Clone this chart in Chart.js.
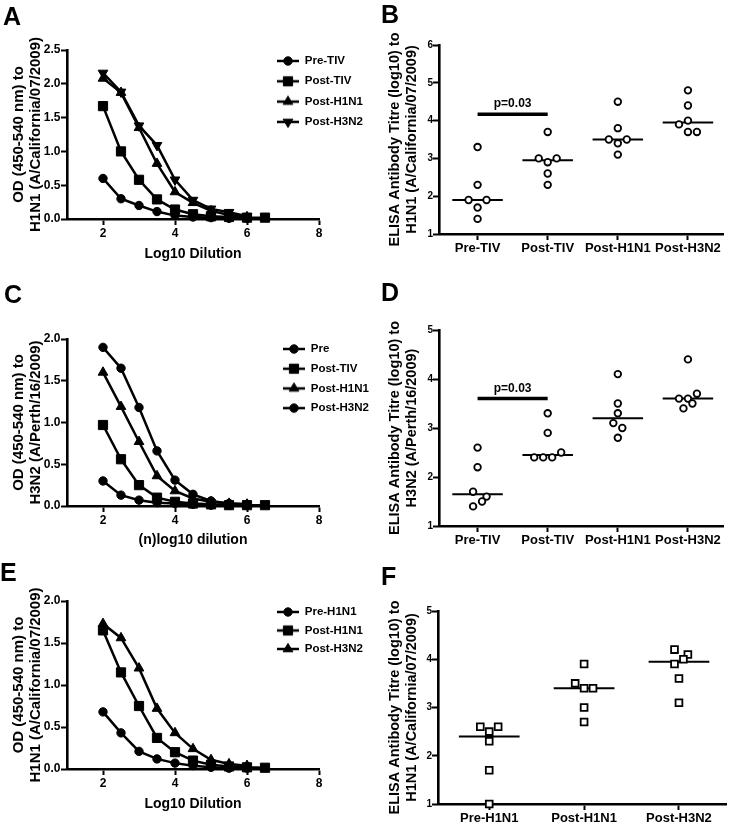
<!DOCTYPE html>
<html>
<head>
<meta charset="utf-8">
<script src="https://cdn.jsdelivr.net/npm/chart.js@4.4.1/dist/chart.umd.min.js"></script>
<style>
  html, body { margin: 0; padding: 0; background: #fff; }
  #fig { position: relative; width: 733px; height: 824px; overflow: hidden; background: #fff; }
  #fig canvas { position: absolute; }
  .lbl { position: absolute; font-family: "Liberation Sans", Arial, sans-serif; font-weight: bold; font-size: 25px; line-height: 1; color: #000; }
</style>
</head>
<body>
<div id="fig">
  <canvas id="cA" width="370" height="275" style="left:0px;top:0px"></canvas>
  <canvas id="cB" width="363" height="280" style="left:370px;top:0px"></canvas>
  <canvas id="cC" width="370" height="275" style="left:0px;top:280px"></canvas>
  <canvas id="cD" width="363" height="275" style="left:370px;top:280px"></canvas>
  <canvas id="cE" width="370" height="274" style="left:0px;top:550px"></canvas>
  <canvas id="cF" width="363" height="274" style="left:370px;top:550px"></canvas>
  <div class="lbl" style="left:3px;top:4px">A</div>
  <div class="lbl" style="left:381px;top:2px">B</div>
  <div class="lbl" style="left:4px;top:282px">C</div>
  <div class="lbl" style="left:381px;top:280px">D</div>
  <div class="lbl" style="left:0px;top:560px">E</div>
  <div class="lbl" style="left:381px;top:564px">F</div>
</div>
<script>
// ================= DATA =================
// Line panels (A, C, E): OD vs log10 dilution
const dilution = [2, 2.5, 3, 3.5, 4, 4.5, 5, 5.5, 6, 6.5];
const lineXTicks = [2, 4, 6, 8];

// Panel A
const aSeriesNames = ['Pre-TIV', 'Post-TIV', 'Post-H1N1', 'Post-H3N2'];
const aPreTIV   = [0.60, 0.30, 0.20, 0.11, 0.05, 0.03, 0.02, 0.01, 0.01];
const aPostTIV  = [1.67, 1.00, 0.58, 0.29, 0.14, 0.07, 0.04, 0.03, 0.02, 0.02];
const aPostH1N1 = [2.08, 1.87, 1.35, 0.82, 0.40, 0.24, 0.12, 0.06, 0.03];
const aPostH3N2 = [2.16, 1.88, 1.38, 1.09, 0.58, 0.28, 0.15, 0.10, 0.04];
const aYTicks = [0, 0.5, 1.0, 1.5, 2.0, 2.5];

// Panel C
const cSeriesNames = ['Pre', 'Post-TIV', 'Post-H1N1', 'Post-H3N2'];
const cPre      = [0.30, 0.13, 0.07, 0.04, 0.03, 0.02, 0.01, 0.01, 0.01];
const cPostTIV  = [0.97, 0.56, 0.25, 0.10, 0.05, 0.03, 0.02, 0.01, 0.01, 0.01];
const cPostH1N1 = [1.60, 1.19, 0.77, 0.36, 0.18, 0.09, 0.05, 0.03, 0.02];
const cPostH3N2 = [1.90, 1.65, 1.18, 0.66, 0.31, 0.14, 0.06, 0.03, 0.02];
const cYTicks = [0, 0.5, 1.0, 1.5, 2.0];

// Panel E
const eSeriesNames = ['Pre-H1N1', 'Post-H1N1', 'Post-H3N2'];
const ePreH1N1  = [0.68, 0.43, 0.21, 0.12, 0.07, 0.04, 0.02, 0.01, 0.01];
const ePostH1N1 = [1.65, 1.15, 0.75, 0.37, 0.20, 0.10, 0.05, 0.03, 0.02, 0.015];
const ePostH3N2 = [1.73, 1.56, 1.20, 0.72, 0.43, 0.24, 0.11, 0.06, 0.04];
const eYTicks = [0, 0.5, 1.0, 1.5, 2.0];

// Dot panels (B, D, F): ELISA titres per subject
const bGroups = ['Pre-TIV', 'Post-TIV', 'Post-H1N1', 'Post-H3N2'];
const bPreTIV   = [3.3, 2.3, 1.9, 1.9, 1.7, 1.4];
const bPostTIV  = [3.7, 3.0, 2.9, 3.0, 2.6, 2.3];
const bPostH1N1 = [4.5, 3.8, 3.5, 3.4, 3.5, 3.1];
const bPostH3N2 = [4.8, 4.4, 4.0, 3.9, 3.7, 3.7];
const bSpread = [[0, 0, -2, 2, 0, 0], [0, -2, 0, 2, 0, 0], [0, 0, -2, 0, 2, 0], [0, 0, 0, -2, 0, 2]];
const bYTicks = [1, 2, 3, 4, 5, 6];
const bSig = { from: 1, to: 2, y: 4.17, labelY: 4.46, label: 'p=0.03' };

const dGroups = ['Pre-TIV', 'Post-TIV', 'Post-H1N1', 'Post-H3N2'];
const dPreTIV   = [2.6, 2.2, 1.7, 1.6, 1.5, 1.4];
const dPostTIV  = [3.3, 2.9, 2.4, 2.4, 2.4, 2.5];
const dPostH1N1 = [4.1, 3.5, 3.3, 3.1, 3.0, 2.8];
const dPostH3N2 = [4.4, 3.6, 3.6, 3.7, 3.4, 3.5];
const dSpread = [[0, 0, -1, 2, 1, -1], [0, 0, -3, -1, 1, 3], [0, 0, 0, -1, 1, 0], [0, -2, 0, 2, -1, 1]];
const dYTicks = [1, 2, 3, 4, 5];
const dSig = { from: 1, to: 2, y: 3.6, labelY: 3.81, label: 'p=0.03' };

const fGroups = ['Pre-H1N1', 'Post-H1N1', 'Post-H3N2'];
const fPreH1N1  = [2.6, 2.5, 2.6, 2.3, 1.7, 1.0];
const fPostH1N1 = [3.9, 3.5, 3.4, 3.4, 3.0, 2.7];
const fPostH3N2 = [4.2, 4.1, 4.0, 3.9, 3.6, 3.1];
const fSpread = [[-2, 0, 2, 0, 0, 0], [0, -2, 0, 2, 0, 0], [-1, 2, 1, -1, 0, 0]];
const fYTicks = [1, 2, 3, 4, 5];

// ================= HELPERS =================
const FONT = '"Liberation Sans", Arial, Helvetica, sans-serif';
const fnt = (size, lh) => ({ family: FONT, size: size, weight: 'bold', lineHeight: lh || 1.2 });

function median(arr) {
  const s = arr.slice().sort((p, q) => p - q);
  const n = s.length;
  return n % 2 ? s[(n - 1) / 2] : (s[n / 2 - 1] + s[n / 2]) / 2;
}

function legendIcon(style, r, rot) {
  const c = document.createElement('canvas');
  c.width = 22; c.height = 16;
  const g = c.getContext('2d');
  const cx = 11, cy = 8;
  g.strokeStyle = '#000'; g.lineWidth = 2.5;
  g.beginPath(); g.moveTo(0, cy); g.lineTo(22, cy); g.stroke();
  g.fillStyle = '#000'; g.lineWidth = 1;
  g.beginPath();
  if (style === 'circle') {
    g.arc(cx, cy, r, 0, Math.PI * 2);
  } else if (style === 'rect') {
    const s = r * Math.SQRT1_2;
    g.rect(cx - s, cy - s, 2 * s, 2 * s);
  } else {
    let a = (rot || 0) * Math.PI / 180;
    g.moveTo(cx + Math.sin(a) * r, cy - Math.cos(a) * r);
    a += 2 * Math.PI / 3;
    g.lineTo(cx + Math.sin(a) * r, cy - Math.cos(a) * r);
    a += 2 * Math.PI / 3;
    g.lineTo(cx + Math.sin(a) * r, cy - Math.cos(a) * r);
    g.closePath();
  }
  g.fill(); g.stroke();
  return c;
}

const legendPlace = {
  id: 'legendPlace',
  afterLayout(chart, args, opts) {
    const lg = chart.legend;
    if (!lg || opts.x == null) return;
    lg.left = opts.x - opts.pad;
    lg.top = opts.y - opts.fs / 2 - opts.pad;
    lg.right = lg.left + lg.width;
    lg.bottom = lg.top + Math.max(lg.height, 200);
  }
};

const sigText = {
  id: 'sigText',
  afterDatasetsDraw(chart, args, opts) {
    if (!opts.label) return;
    const xs = chart.scales.x, ys = chart.scales.y, ctx = chart.ctx;
    ctx.save();
    ctx.font = 'bold 12px ' + FONT;
    ctx.fillStyle = '#000';
    ctx.textAlign = 'center';
    ctx.textBaseline = 'middle';
    ctx.fillText(opts.label, xs.getPixelForValue((opts.from + opts.to) / 2), ys.getPixelForValue(opts.labelY));
    ctx.restore();
  }
};

function axisBase() {
  return {
    grid: { display: true, drawOnChartArea: false, drawTicks: true, tickLength: 6, tickWidth: 2, tickColor: '#000', color: '#000' },
    border: { display: true, color: '#000', width: 2.6 }
  };
}

// ---------- line panels ----------
function linePanel(id, o) {
  const a = o.area;
  const datasets = o.series.map(s => ({
    label: s.name,
    data: s.values.map((v, k) => ({ x: dilution[k], y: v })),
    borderColor: '#000', backgroundColor: '#000', borderWidth: 2.5,
    pointStyle: s.style, pointRadius: s.r, pointRotation: s.rot || 0, pointBorderWidth: 1,
    pointBackgroundColor: '#000', pointBorderColor: '#000',
    tension: 0, clip: false,
    legendIcon: legendIcon(s.style, s.r, s.rot || 0)
  }));
  new Chart(document.getElementById(id), {
    type: 'line',
    data: { datasets },
    options: {
      responsive: false, animation: false, events: [],
      layout: { padding: { left: 0, top: a.top, right: o.W - a.right, bottom: 0 } },
      plugins: {
        tooltip: { enabled: false },
        legend: {
          display: true, position: 'chartArea', align: 'start',
          labels: {
            usePointStyle: true, pointStyleWidth: 22, boxHeight: 11.5, padding: o.legend.pad,
            color: '#000', font: fnt(11.5),
            generateLabels: chart => chart.data.datasets.map((d, i) => ({
              text: d.label, pointStyle: d.legendIcon, fillStyle: '#000', strokeStyle: '#000',
              lineWidth: 0, hidden: false, datasetIndex: i, fontColor: '#000'
            }))
          }
        },
        legendPlace: { x: o.legend.x, y: o.legend.y, pad: o.legend.pad, fs: 11.5 }
      },
      scales: {
        x: Object.assign(axisBase(), {
          type: 'linear', min: 1, max: 8,
          afterBuildTicks: s => { s.ticks = lineXTicks.map(v => ({ value: v })); },
          afterFit: s => { s.height = o.H - a.bottom; },
          ticks: { color: '#000', font: fnt(12), padding: 1, maxRotation: 0, autoSkip: false, callback: v => String(v) },
          title: { display: true, text: o.xTitle, color: '#000', font: fnt(14), padding: { top: 0, bottom: o.xTitlePad } }
        }),
        y: Object.assign(axisBase(), {
          type: 'linear', min: o.yTicks[0], max: o.yTicks[o.yTicks.length - 1],
          afterBuildTicks: s => { s.ticks = o.yTicks.map(v => ({ value: v })); },
          afterFit: s => { s.width = a.left; },
          ticks: { color: '#000', font: fnt(12), padding: 0.5, autoSkip: false, callback: v => Number(v).toFixed(1) },
          title: { display: true, text: o.yTitle, color: '#000', font: fnt(15, 1.13), padding: { top: o.yTitlePad, bottom: 0 } }
        })
      }
    },
    plugins: [legendPlace]
  });
}

// ---------- dot panels ----------
function dotPanel(id, o) {
  const a = o.area;
  const datasets = [];
  o.groups.forEach((vals, gi) => {
    datasets.push({
      type: 'scatter',
      data: vals.map((v, k) => ({ x: gi + 1 + o.spread[gi][k] * o.slot, y: v })),
      pointStyle: o.marker, pointRadius: o.markerR, pointBorderWidth: 1.8,
      pointBackgroundColor: '#fff', pointBorderColor: '#000', showLine: false, clip: false, order: 0
    });
    const m = median(vals);
    datasets.push({
      type: 'scatter',
      data: [{ x: gi + 1 - o.half, y: m }, { x: gi + 1 + o.half, y: m }],
      showLine: true, borderColor: '#000', borderWidth: 2, pointRadius: 0, clip: false, order: 1
    });
  });
  if (o.sig) {
    datasets.push({
      type: 'scatter',
      data: [{ x: o.sig.from, y: o.sig.y }, { x: o.sig.to, y: o.sig.y }],
      showLine: true, borderColor: '#000', borderWidth: 3.5, pointRadius: 0, clip: false, order: 1
    });
  }
  new Chart(document.getElementById(id), {
    type: 'scatter',
    data: { datasets },
    options: {
      responsive: false, animation: false, events: [],
      layout: { padding: { left: 0, top: a.top, right: o.W - a.right, bottom: 0 } },
      plugins: {
        tooltip: { enabled: false },
        legend: { display: false },
        sigText: o.sig ? { label: o.sig.label, from: o.sig.from, to: o.sig.to, labelY: o.sig.labelY } : {}
      },
      scales: {
        x: Object.assign(axisBase(), {
          type: 'linear', min: o.xMin, max: o.xMax,
          afterBuildTicks: s => { s.ticks = o.cats.map((c, i) => ({ value: i + 1 })); },
          afterFit: s => { s.height = o.H - a.bottom; },
          ticks: { color: '#000', font: fnt(13), padding: 0.5, maxRotation: 0, autoSkip: false,
                   callback: v => o.cats[Math.round(v) - 1] }
        }),
        y: Object.assign(axisBase(), {
          type: 'linear', min: o.yTicks[0], max: o.yTicks[o.yTicks.length - 1],
          afterBuildTicks: s => { s.ticks = o.yTicks.map(v => ({ value: v })); },
          afterFit: s => { s.width = a.left; },
          ticks: { color: '#000', font: fnt(10), padding: 0, autoSkip: false, callback: v => String(v) },
          title: { display: true, text: o.yTitle, color: '#000', font: fnt(14.5, 1.15), padding: { top: o.yTitlePad, bottom: 0 } }
        })
      }
    },
    plugins: [sigText]
  });
}

// ================= BUILD =================
linePanel('cA', {
  W: 370, H: 275, area: { left: 67, top: 50, right: 319, bottom: 219 },
  yTicks: aYTicks, xTitle: 'Log10 Dilution', xTitlePad: 12.6,
  yTitle: ['OD (450-540 nm) to', 'H1N1 (A/California/07/2009)'], yTitlePad: 10,
  legend: { x: 277, y: 61, pad: 8.8 },
  series: [
    { name: aSeriesNames[0], values: aPreTIV, style: 'circle', r: 4.2 },
    { name: aSeriesNames[1], values: aPostTIV, style: 'rect', r: 6.5 },
    { name: aSeriesNames[2], values: aPostH1N1, style: 'triangle', r: 5.6 },
    { name: aSeriesNames[3], values: aPostH3N2, style: 'triangle', r: 5.6, rot: 180 }
  ]
});

linePanel('cC', {
  W: 370, H: 275, area: { left: 67, top: 59, right: 319, bottom: 226 },
  yTicks: cYTicks, xTitle: '(n)log10 dilution', xTitlePad: 6.6,
  yTitle: ['OD (450-540 nm) to', 'H3N2 (A/Perth/16/2009)'], yTitlePad: 10,
  legend: { x: 283, y: 69, pad: 8.2 },
  series: [
    { name: cSeriesNames[0], values: cPre, style: 'circle', r: 4.2 },
    { name: cSeriesNames[1], values: cPostTIV, style: 'rect', r: 6.5 },
    { name: cSeriesNames[2], values: cPostH1N1, style: 'triangle', r: 5.6 },
    { name: cSeriesNames[3], values: cPostH3N2, style: 'circle', r: 4.2 }
  ]
});

linePanel('cE', {
  W: 370, H: 274, area: { left: 67, top: 51, right: 319, bottom: 219 },
  yTicks: eYTicks, xTitle: 'Log10 Dilution', xTitlePad: 11.6,
  yTitle: ['OD (450-540 nm) to', 'H1N1 (A/California/07/2009)'], yTitlePad: 10,
  legend: { x: 277, y: 62, pad: 7 },
  series: [
    { name: eSeriesNames[0], values: ePreH1N1, style: 'circle', r: 4.2 },
    { name: eSeriesNames[1], values: ePostH1N1, style: 'rect', r: 6.5 },
    { name: eSeriesNames[2], values: ePostH3N2, style: 'triangle', r: 5.6 }
  ]
});

dotPanel('cB', {
  W: 363, H: 280, area: { left: 69, top: 45, right: 353, bottom: 234 },
  cats: bGroups, groups: [bPreTIV, bPostTIV, bPostH1N1, bPostH3N2], spread: bSpread,
  xMin: 0.45, xMax: 4.5, slot: 0.064, half: 0.36, marker: 'circle', markerR: 3.3,
  yTicks: bYTicks, sig: bSig,
  yTitle: ['ELISA Antibody Titre (log10) to', 'H1N1 (A/California/07/2009)'], yTitlePad: 16.5
});

dotPanel('cD', {
  W: 363, H: 275, area: { left: 69, top: 50, right: 353, bottom: 246 },
  cats: dGroups, groups: [dPreTIV, dPostTIV, dPostH1N1, dPostH3N2], spread: dSpread,
  xMin: 0.45, xMax: 4.5, slot: 0.064, half: 0.36, marker: 'circle', markerR: 3.3,
  yTicks: dYTicks, sig: dSig,
  yTitle: ['ELISA Antibody Titre (log10) to', 'H3N2 (A/Perth/16/2009)'], yTitlePad: 16.5
});

dotPanel('cF', {
  W: 363, H: 274, area: { left: 68, top: 61, right: 360, bottom: 254 },
  cats: fGroups, groups: [fPreH1N1, fPostH1N1, fPostH3N2], spread: fSpread,
  xMin: 0.46, xMax: 3.5, slot: 0.047, half: 0.32, marker: 'rect', markerR: 4.8,
  yTicks: fYTicks, sig: null,
  yTitle: ['ELISA Antibody Titre (log10) to', 'H1N1 (A/California/07/2009)'], yTitlePad: 16.5
});
</script>
</body>
</html>
